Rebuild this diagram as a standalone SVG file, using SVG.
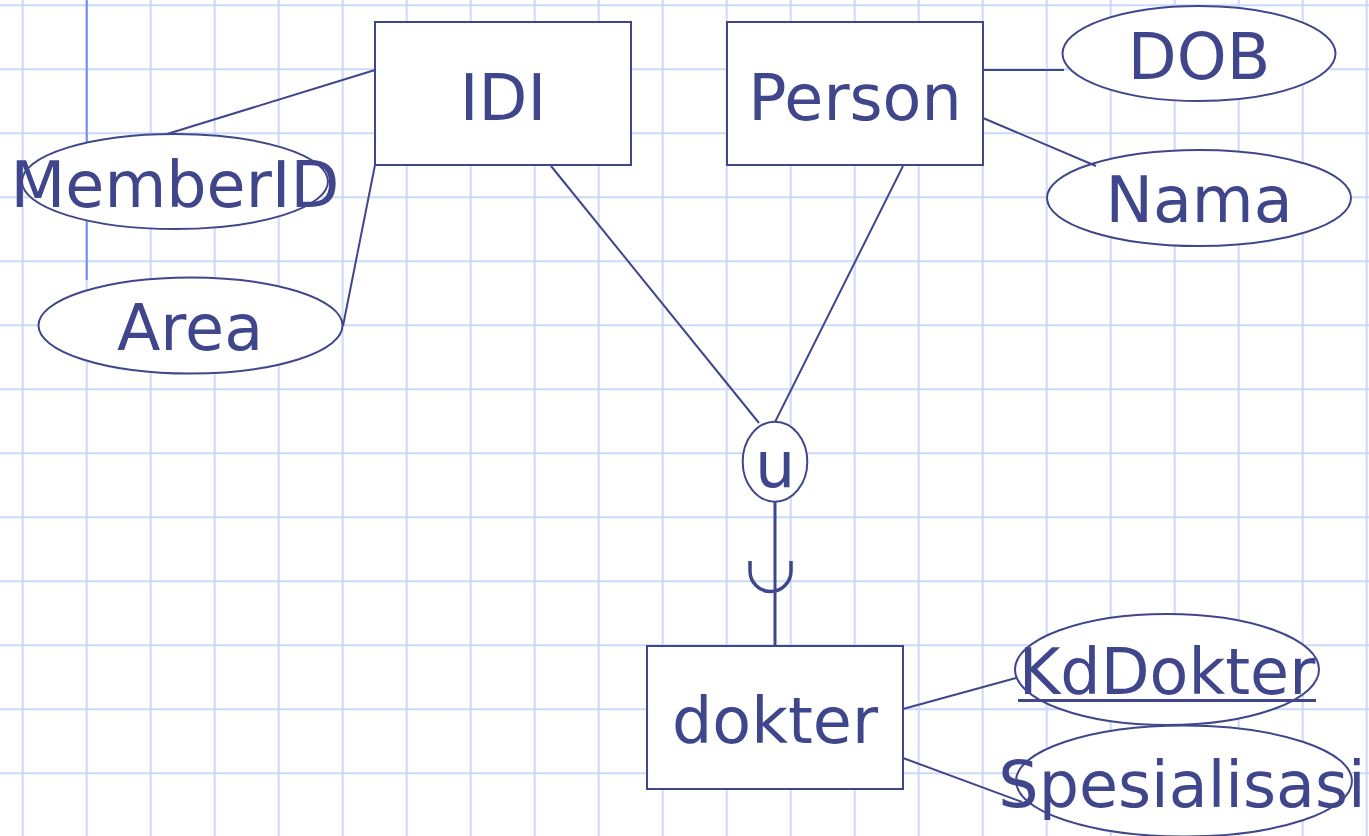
<svg xmlns="http://www.w3.org/2000/svg" width="1369" height="836" viewBox="0 0 1369 836">
<defs>
<style>
.ent{fill:#ffffff;stroke:#40468c;stroke-width:2}
.att{fill:#ffffff;stroke:#40468c;stroke-width:2}
.ln{stroke:#40468c;fill:none}
.t{font-family:"DejaVu Sans",sans-serif;font-size:63.5px;fill:#40468c;text-anchor:middle}
.grid{stroke:#ccd9fc;stroke-width:2;fill:none}
</style>
</defs>
<rect x="0" y="0" width="1369" height="836" fill="#ffffff"/>
<path class="grid" d="M22.7,0V836 M86.7,0V836 M150.7,0V836 M214.7,0V836 M278.7,0V836 M342.7,0V836 M406.7,0V836 M470.7,0V836 M534.7,0V836 M598.7,0V836 M662.7,0V836 M726.7,0V836 M790.7,0V836 M854.7,0V836 M918.7,0V836 M982.7,0V836 M1046.7,0V836 M1110.7,0V836 M1174.7,0V836 M1238.7,0V836 M1302.7,0V836 M1366.7,0V836 M0,5.3H1369 M0,69.3H1369 M0,133.3H1369 M0,197.3H1369 M0,261.3H1369 M0,325.3H1369 M0,389.3H1369 M0,453.3H1369 M0,517.3H1369 M0,581.3H1369 M0,645.3H1369 M0,709.3H1369 M0,773.3H1369"/>
<line x1="86.7" y1="0" x2="86.7" y2="280" stroke="#6b8af5" stroke-width="2"/>
<g id="IDI"><rect class="ent" x="375" y="22" width="256" height="143"/><text class="t" x="503" y="120">IDI</text></g>
<g id="Person"><rect class="ent" x="727" y="22" width="256" height="143"/><text class="t" x="855" y="120">Person</text></g>
<g id="dokter"><rect class="ent" x="647" y="646" width="256" height="143"/><text class="t" x="775" y="743">dokter</text></g>
<g id="MemberID"><ellipse class="att" cx="175" cy="181.5" rx="153" ry="47.5"/><text class="t" x="175" y="206.7">MemberID</text></g>
<g id="Area"><ellipse class="att" cx="190.5" cy="325.5" rx="152" ry="48"/><text class="t" x="190" y="350">Area</text></g>
<g id="DOB"><ellipse class="att" cx="1199" cy="53.5" rx="136.5" ry="47.5"/><text class="t" x="1199" y="79.3">DOB</text></g>
<g id="Nama"><ellipse class="att" cx="1199" cy="198" rx="152" ry="48"/><text class="t" x="1199" y="221.7">Nama</text></g>
<g id="u"><ellipse class="att" cx="775" cy="461.7" rx="32.3" ry="40"/><text class="t" x="775" y="487.3">u</text></g>
<g id="KdDokter"><ellipse class="att" cx="1167" cy="669.5" rx="152" ry="55.5"/><text class="t" x="1167" y="694.3">KdDokter</text><line x1="1018" y1="700.5" x2="1316" y2="700.5" stroke="#40468c" stroke-width="3"/></g>
<g id="Spesialisasi"><ellipse class="att" cx="1184" cy="781" rx="168" ry="55.5"/><text class="t" x="1182" y="806.7">Spesialisasi</text></g>
<g id="connectors">
<line class="ln" style="stroke-width:2" x1="167" y1="134" x2="375" y2="70"/>
<line class="ln" style="stroke-width:2" x1="343" y1="326" x2="375" y2="165"/>
<line class="ln" style="stroke-width:2" x1="551" y1="166" x2="759" y2="423"/>
<line class="ln" style="stroke-width:2" x1="903" y1="166" x2="775" y2="422"/>
<line class="ln" style="stroke-width:2" x1="983" y1="70" x2="1064" y2="70"/>
<line class="ln" style="stroke-width:2" x1="983" y1="118" x2="1096" y2="166"/>
<line class="ln" style="stroke-width:3" x1="775" y1="502" x2="775" y2="646"/>
<path class="ln" style="stroke-width:3.5" d="M750,561 V571 A20.5,20.5 0 0 0 791,571 V561"/>
<line class="ln" style="stroke-width:2" x1="903" y1="709" x2="1016" y2="678"/>
<line class="ln" style="stroke-width:2" x1="903" y1="758" x2="1022" y2="802"/>
</g>
</svg>
